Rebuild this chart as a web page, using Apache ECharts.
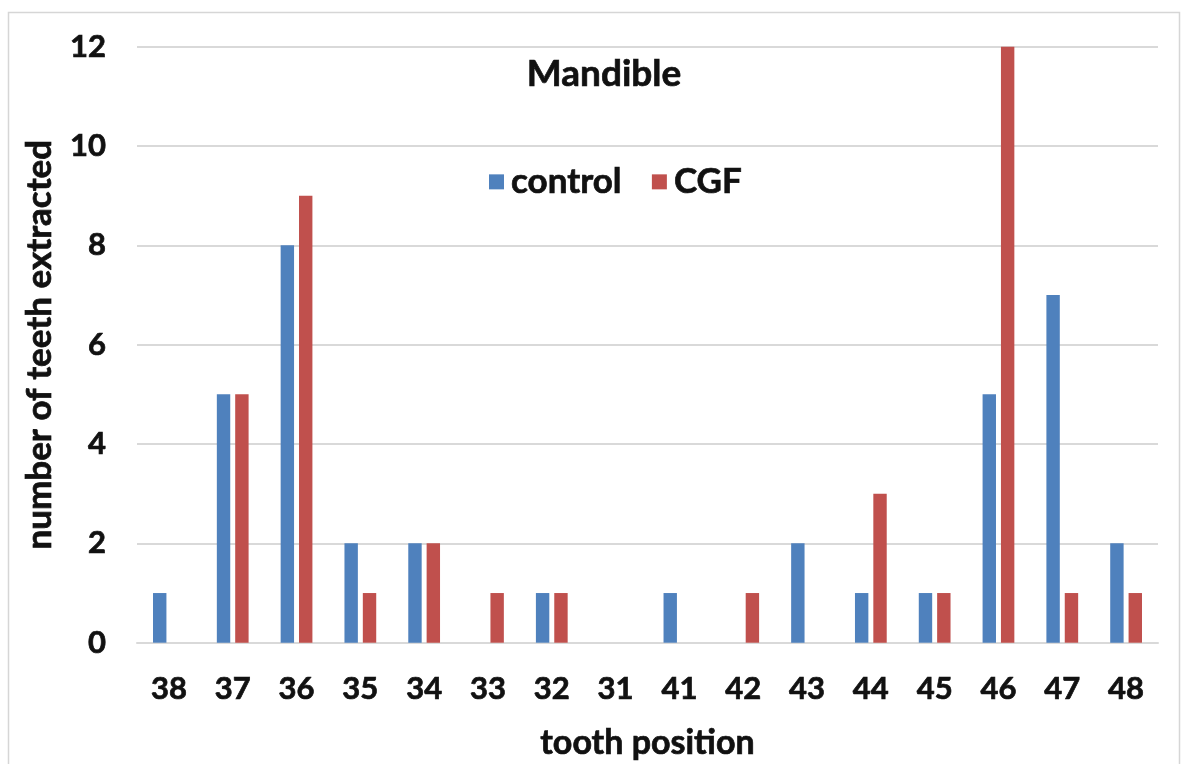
<!DOCTYPE html>
<html>
<head>
<meta charset="utf-8">
<script src="https://cdn.jsdelivr.net/npm/echarts@6/dist/echarts.min.js"></script>
<style>
  html, body { margin: 0; padding: 0; background: #ffffff; }
  #chart { width: 1183px; height: 764px; }
</style>
</head>
<body>
<div id="chart"></div>
<script>
// Teeth extracted per tooth position (mandible)
const toothPositions = ['38', '37', '36', '35', '34', '33', '32', '31', '41', '42', '43', '44', '45', '46', '47', '48'];
const controlCounts = [1, 5, 8, 2, 2, 0, 1, 0, 1, 0, 2, 1, 1, 5, 7, 2];
const cgfCounts     = [0, 5, 9, 1, 2, 1, 1, 0, 0, 1, 0, 3, 1, 12, 1, 1];
const seriesNames = ['control', 'CGF'];

const FONT = 'Lato';
const TEXT = '#111111';
// a thin outline in the text colour gives the heavy bold look
const heavy = { fontFamily: FONT, fontWeight: 'bold', color: TEXT, textBorderColor: TEXT, textBorderWidth: 0.7 };

const chart = echarts.init(document.getElementById('chart'), null, { renderer: 'canvas' });

chart.setOption({
  backgroundColor: '#ffffff',
  animation: false,
  title: {
    text: 'Mandible',
    left: 599,
    top: 51,
    textAlign: 'center',
    textStyle: Object.assign({}, heavy, { fontSize: 37 })
  },
  legend: {
    data: seriesNames,
    left: 484,
    top: 159,
    itemWidth: 15,
    itemHeight: 15,
    itemGap: 30,
    icon: 'rect',
    textStyle: Object.assign({}, heavy, { fontSize: 35, padding: [0, 0, 0, 2] })
  },
  graphic: [{
    type: 'rect',
    shape: { x: 8.5, y: 12.5, width: 1171, height: 780 },
    style: { fill: 'none', stroke: '#d6d6d6', lineWidth: 1.5 },
    silent: true,
    z: -10
  }],
  grid: { left: 137, right: 25, top: 46.7, bottom: 121.3, containLabel: false, outerBoundsMode: 'none' },
  xAxis: {
    type: 'category',
    data: toothPositions,
    name: 'tooth position',
    nameLocation: 'middle',
    nameGap: 83,
    nameTextStyle: Object.assign({}, heavy, { fontSize: 34 }),
    axisLine: { show: true, lineStyle: { color: '#d9d9d9', width: 2 } },
    axisTick: { show: false },
    axisLabel: Object.assign({}, heavy, { fontSize: 31, margin: 31 })
  },
  yAxis: {
    type: 'value',
    min: 0,
    max: 12,
    interval: 2,
    name: 'number of teeth extracted',
    nameLocation: 'middle',
    nameGap: 80,
    nameRotate: 90,
    nameTextStyle: Object.assign({}, heavy, { fontSize: 35 }),
    axisLine: { show: false },
    axisTick: { show: false },
    axisLabel: Object.assign({}, heavy, { fontSize: 31, margin: 31 }),
    splitLine: { lineStyle: { color: '#d9d9d9', width: 2 } }
  },
  series: [
    {
      name: seriesNames[0],
      type: 'bar',
      data: controlCounts,
      barWidth: '21%',
      barGap: '37%',
      itemStyle: { color: '#4F81BD' }
    },
    {
      name: seriesNames[1],
      type: 'bar',
      data: cgfCounts,
      barWidth: '21%',
      barGap: '37%',
      itemStyle: { color: '#C0504D' }
    }
  ]
});
</script>
</body>
</html>
